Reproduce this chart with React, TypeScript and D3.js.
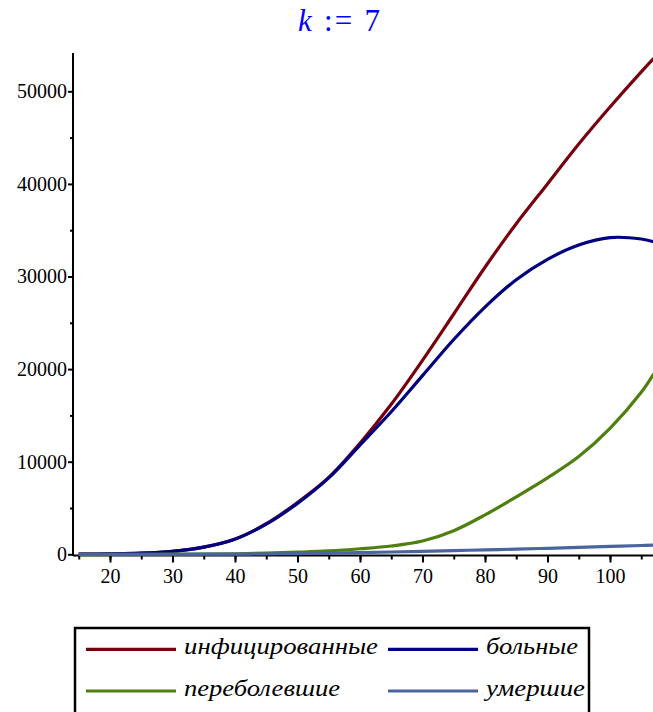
import { useRef, useEffect } from 'react';
import * as d3 from 'd3';

// time (days) and the four model curves
const days = [15, 20, 25, 30, 35, 40, 45, 50, 55, 60, 65, 70, 75, 80, 85, 90, 95, 100, 105, 107];
const infected = [20, 50, 120, 320, 780, 1650, 3300, 5600, 8300, 12000, 16200, 20950, 25950, 31000, 35700, 40000, 44300, 48300, 52100, 53550];
const sick = [20, 50, 120, 320, 770, 1630, 3250, 5500, 8250, 11800, 15400, 19300, 23200, 26700, 29650, 31850, 33400, 34200, 34050, 33750];
const recovered = [0, 0, 5, 10, 30, 60, 120, 230, 370, 600, 900, 1430, 2550, 4250, 6200, 8250, 10550, 13600, 17500, 19500];
const died = [0, 0, 2, 5, 10, 20, 45, 80, 130, 180, 250, 320, 400, 480, 565, 650, 750, 850, 950, 1000];

const seriesNames = ['инфицированные', 'больные', 'переболевшие', 'умершие'];
const seriesColors = ['#78000E', '#000080', '#4F7F0F', '#4A64A0'];
const seriesValues = [infected, sick, recovered, died];

const yTicks = [0, 10000, 20000, 30000, 40000, 50000];
const xTicks = [20, 30, 40, 50, 60, 70, 80, 90, 100];

const serif = "'Liberation Serif', 'Times New Roman', 'DejaVu Serif', serif";

export default function App() {
  const gx = useRef(null),
    gxMinor = useRef(null),
    gy = useRef(null),
    gyMinor = useRef(null);

  const width = 653,
    height = 712;

  const x = d3.scaleLinear().domain([14.08, 106.88]).range([73, 653]);
  const y = d3.scaleLinear().domain([0, 54136]).range([554.3, 53]);

  const line = d3
    .line<number>()
    .x((_, i) => x(days[i]))
    .y((d) => y(d))
    .curve(d3.curveCatmullRom.alpha(0.5));

  useEffect(() => {
    const ax = d3.select(gx.current);
    ax.call(d3.axisBottom(x).tickValues(xTicks).tickSize(7).tickPadding(6).tickSizeOuter(0).tickFormat(d3.format('d')));
    ax.attr('font-family', serif).attr('font-size', 20);
    ax.select('.domain').attr('stroke-width', 2).attr('d', `M73,0H653`);
    ax.selectAll('.tick line').attr('stroke-width', 2);
    ax.selectAll('text').attr('fill', '#000');

    const axm = d3.select(gxMinor.current);
    axm.call(d3.axisBottom(x).tickValues(d3.range(15, 107, 5)).tickSize(4).tickFormat(() => '').tickSizeOuter(0));
    axm.select('.domain').remove();
    axm.selectAll('.tick line').attr('stroke-width', 2);

    const ay = d3.select(gy.current);
    ay.call(d3.axisLeft(y).tickValues(yTicks).tickSize(5).tickPadding(1).tickSizeOuter(0).tickFormat(d3.format('d')));
    ay.attr('font-family', serif).attr('font-size', 20);
    ay.select('.domain').attr('stroke-width', 2).attr('d', `M0,555.5V53`);
    ay.selectAll('.tick line').attr('stroke-width', 2);
    ay.selectAll('text').attr('fill', '#000');

    const aym = d3.select(gyMinor.current);
    aym.call(d3.axisLeft(y).tickValues([5000, 15000, 25000, 35000, 45000]).tickSize(3).tickFormat(() => '').tickSizeOuter(0));
    aym.select('.domain').remove();
    aym.selectAll('.tick line').attr('stroke-width', 2);
  }, []);

  // legend slots; text widths measured on the reference
  const legendRows = [
    { x: 86, y: 649.3, w: 194 },
    { x: 388, y: 649.3, w: 92 },
    { x: 86, y: 691, w: 156 },
    { x: 388, y: 691, w: 99 },
  ];

  return (
    <svg
      width={width}
      height={height}
      style={{ position: 'absolute', left: 0, top: 0, background: '#fff' }}
    >
      <text
        x={298}
        y={31}
        fill="#0000ff"
        textLength={82}
        lengthAdjust="spacing"
        style={{ fontFamily: serif, fontSize: 31 }}
      >
        <tspan fontStyle="italic">k</tspan>
        <tspan> := 7</tspan>
      </text>

      <g ref={gx} transform="translate(0,555.5)" />
      <g ref={gxMinor} transform="translate(0,555.5)" />
      <g ref={gy} transform="translate(73,0)" />
      <g ref={gyMinor} transform="translate(73,0)" />

      {seriesValues.map((vals, i) => (
        <path
          key={seriesNames[i]}
          d={line(vals) ?? ''}
          fill="none"
          stroke={seriesColors[i]}
          strokeWidth={3.2}
        />
      ))}

      <rect x={75} y={628} width={514} height={100} fill="#fff" stroke="#000" strokeWidth={2.5} />
      {seriesNames.map((name, i) => (
        <g key={name}>
          <line
            x1={legendRows[i].x}
            x2={legendRows[i].x + 90}
            y1={legendRows[i].y}
            y2={legendRows[i].y}
            stroke={seriesColors[i]}
            strokeWidth={3.2}
          />
          <text
            x={legendRows[i].x + 98}
            y={legendRows[i].y + 5}
            textLength={legendRows[i].w}
            lengthAdjust="spacingAndGlyphs"
            style={{ fontFamily: serif, fontStyle: 'italic', fontSize: 24 }}
            fill="#000"
          >
            {name}
          </text>
        </g>
      ))}
    </svg>
  );
}
